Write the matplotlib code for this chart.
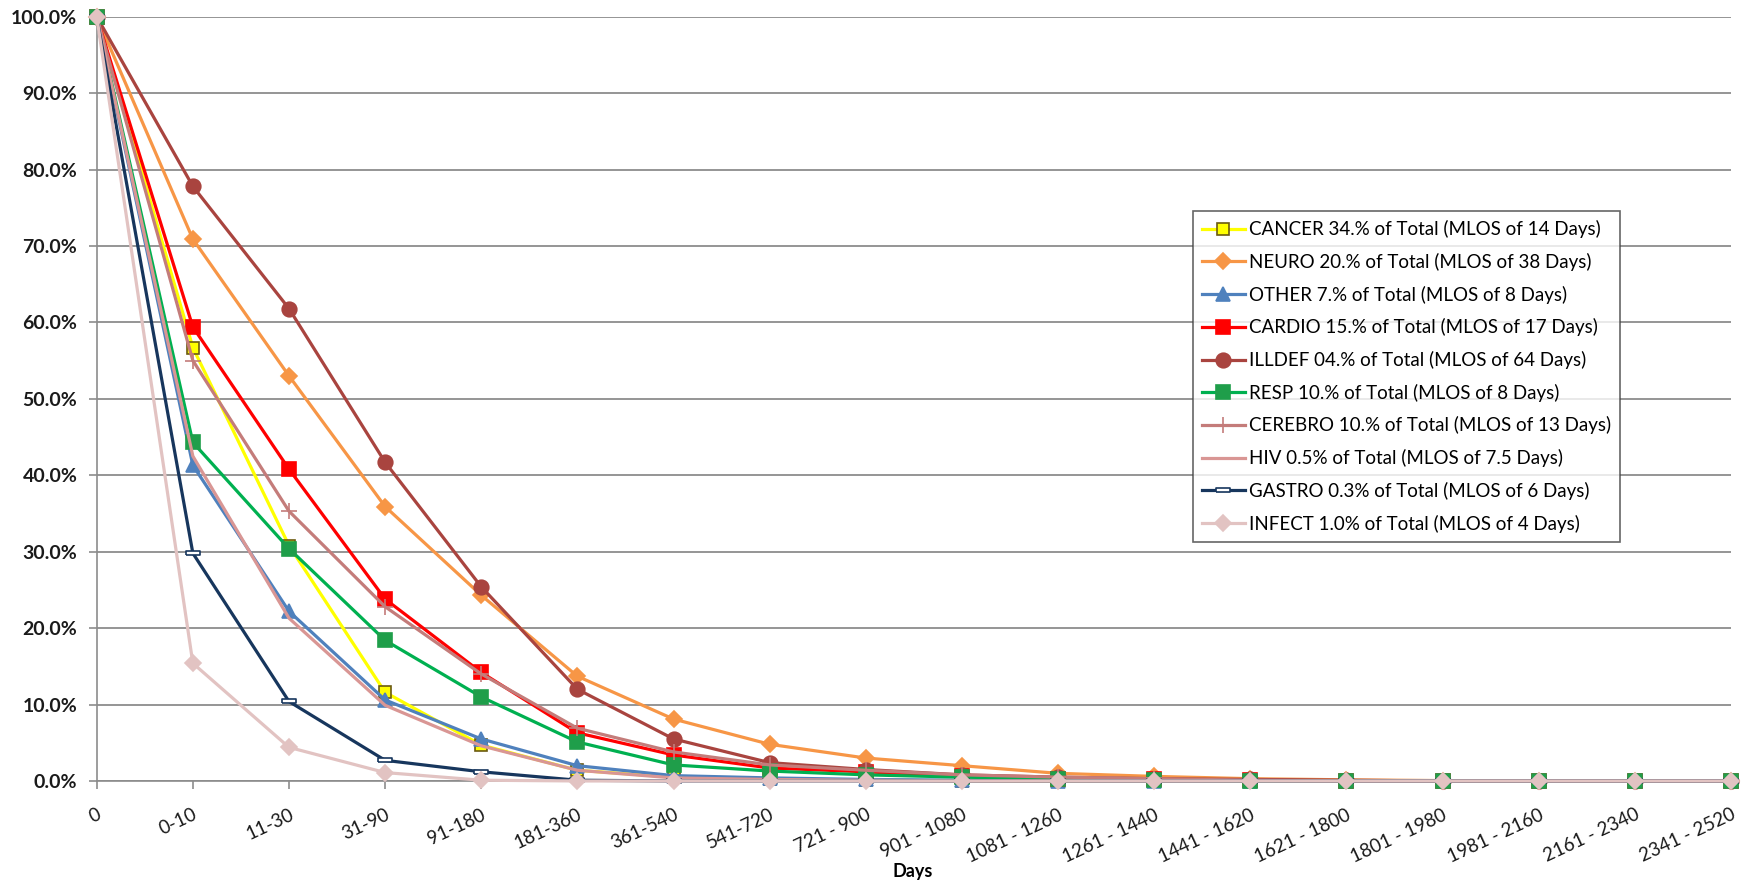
import matplotlib
matplotlib.use("Agg")
import matplotlib.pyplot as plt
from matplotlib.ticker import FuncFormatter, MultipleLocator

plt.rcParams['font.family'] = ['Lato', 'DejaVu Sans']

# day ranges along the x axis
categories = ['0', '0-10', '11-30', '31-90', '91-180', '181-360', '361-540', '541-720',
              '721 - 900', '901 - 1080', '1081 - 1260', '1261 - 1440', '1441 - 1620',
              '1621 - 1800', '1801 - 1980', '1981 - 2160', '2161 - 2340', '2341 - 2520']

# percent of patients still in care
cancer  = [100, 56.7, 30.8, 11.6, 4.7, 1.4, 0.5, 0.2, 0.1, 0.05, 0, 0, 0, 0, 0, 0, 0, 0]
neuro   = [100, 70.9, 53.0, 35.9, 24.3, 13.7, 8.1, 4.8, 3.0, 2.0, 1.0, 0.6, 0.3, 0.15, 0.05, 0, 0, 0]
other   = [100, 41.3, 22.2, 10.6, 5.5, 2.0, 0.7, 0.4, 0.2, 0.1, 0.05, 0, 0, 0, 0, 0, 0, 0]
cardio  = [100, 59.4, 40.8, 23.8, 14.2, 6.3, 3.4, 1.7, 1.2, 0.6, 0.3, 0.2, 0.1, 0, 0, 0, 0, 0]
illdef  = [100, 77.8, 61.8, 41.7, 25.4, 12.0, 5.5, 2.4, 1.5, 0.8, 0.5, 0.3, 0.2, 0.1, 0, 0, 0, 0]
resp    = [100, 44.3, 30.4, 18.4, 11.0, 5.1, 2.1, 1.3, 0.8, 0.5, 0.3, 0.1, 0, 0, 0, 0, 0, 0]
cerebro = [100, 55.0, 35.3, 22.8, 14.0, 6.9, 3.8, 2.1, 1.4, 0.8, 0.5, 0.3, 0.1, 0, 0, 0, 0, 0]
hiv     = [100, 42.5, 21.3, 9.9, 4.6, 1.4, 0.4, 0.2, 0.1, 0, 0, 0, 0, 0, 0, 0, 0, 0]
gastro  = [100, 29.8, 10.4, 2.7, 1.2, 0.1, 0, 0, 0, 0, 0, 0, 0, 0, 0, 0, 0, 0]
infect  = [100, 15.4, 4.4, 1.1, 0.1, 0, 0, 0, 0, 0, 0, 0, 0, 0, 0, 0, 0, 0]

labels = ['CANCER 34.% of Total (MLOS of 14 Days)',
          'NEURO 20.% of Total (MLOS of 38 Days)',
          'OTHER 7.% of Total (MLOS of 8 Days)',
          'CARDIO 15.% of Total (MLOS of 17 Days)',
          'ILLDEF 04.% of Total (MLOS of 64 Days)',
          'RESP 10.% of Total (MLOS of 8 Days)',
          'CEREBRO 10.% of Total (MLOS of 13 Days)',
          'HIV 0.5% of Total (MLOS of 7.5 Days)',
          'GASTRO 0.3% of Total (MLOS of 6 Days)',
          'INFECT 1.0% of Total (MLOS of 4 Days)']

bar = [(-1, -0.25), (1, -0.25), (1, 0.25), (-1, 0.25), (-1, -0.25)]

# color, marker, face, edge, size
styles = [
    ('#FFFF00', 's', '#FFFF00', '#6B5A10', 8.5),
    ('#F79646', 'D', '#F79646', '#F79646', 8.5),
    ('#4F81BD', '^', '#4F81BD', '#4F81BD', 10.5),
    ('#FF0000', 's', '#FF0000', '#FF0000', 10.5),
    ('#A9443F', 'o', '#A9443F', '#A9443F', 10.5),
    ('#00B050', 's', '#1F9E4A', '#1F9E4A', 10.5),
    ('#C47C7A', '+', '#C47C7A', '#C47C7A', 11),
    ('#D99694', 'None', 'none', 'none', 1),
    ('#17365D', bar, 'white', '#17365D', 10),
    ('#E2C3C2', 'D', '#E2C3C2', '#E2C3C2', 8.5),
]

series = [cancer, neuro, other, cardio, illdef, resp, cerebro, hiv, gastro, infect]

fig = plt.figure(figsize=(17.46, 8.9), dpi=100)
ax = fig.add_axes([0.0554, 0.1225, 0.936, 0.8588])

x = list(range(len(categories)))
for vals, lab, (col, mk, fc, ec, ms) in zip(series, labels, styles):
    ax.plot(x, vals, color=col, lw=2.3, marker=mk, markerfacecolor=fc,
            markeredgecolor=ec, markersize=ms, markeredgewidth=1.2, label=lab,
            clip_on=False, zorder=3)

ax.set_xlim(0, len(categories) - 1)
ax.set_ylim(0, 100)
ax.yaxis.set_major_locator(MultipleLocator(10))
ax.yaxis.set_major_formatter(FuncFormatter(lambda v, p: '%.1f%%' % v))
ax.grid(axis='y', color='#8C8C8C', lw=1.3)
ax.set_axisbelow(True)

ax.set_xticks(x)
ax.set_xticklabels(categories, rotation=25, ha='right', va='top', rotation_mode='anchor')
ax.tick_params(axis='x', length=6, width=1.2, color='#8C8C8C', labelsize=13.5, pad=12,
               labelcolor='#1A1A1A')
ax.tick_params(axis='y', length=6, width=1.2, color='#8C8C8C', labelsize=14, pad=8,
               labelcolor='#1A1A1A')
for lbl in ax.get_yticklabels():
    lbl.set_fontweight('bold')

for s in ['top', 'right']:
    ax.spines[s].set_visible(False)
for s in ['left', 'bottom']:
    ax.spines[s].set_color('#8C8C8C')
    ax.spines[s].set_linewidth(1.2)

fig.text(0.523, 0.011, 'Days', ha='center', va='bottom', fontsize=13, fontweight='bold')

leg = ax.legend(loc='upper left', bbox_to_anchor=(0.683, 0.763), bbox_transform=fig.transFigure,
                fontsize=13.5, frameon=True, fancybox=False, edgecolor='#404040',
                handlelength=2.3, handletextpad=0.2, labelspacing=0.78, borderpad=0.5,
                borderaxespad=0)
leg.get_frame().set_linewidth(1.2)
leg.set_zorder(5)

fig.savefig('out.png', dpi=100, facecolor='white')
